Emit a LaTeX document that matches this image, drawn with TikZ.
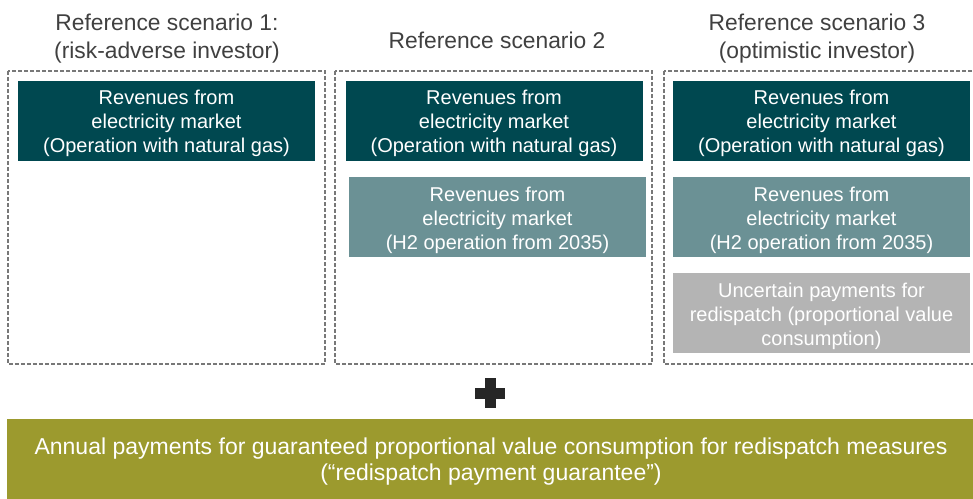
\documentclass[tikz,border=0pt]{standalone}
\usepackage{fontspec}
\setmainfont{Liberation Sans}
\definecolor{tealdark}{RGB}{0,72,80}
\definecolor{teallight}{RGB}{107,145,149}
\definecolor{greybox}{RGB}{180,180,180}
\definecolor{olive}{RGB}{156,154,46}
\definecolor{titlegrey}{RGB}{64,64,64}
\definecolor{dashgrey}{RGB}{120,120,120}
\definecolor{plusgrey}{RGB}{38,38,38}
\begin{document}
\begin{tikzpicture}[x=1pt,y=-1pt,
  scenario/.style={draw=dashgrey,line width=1.4pt,dash pattern=on 4pt off 2pt},
  title/.style={text=titlegrey,font=\fontsize{22.8}{28}\selectfont,align=center,inner sep=0pt},
  revbox/.style={minimum width=297pt,minimum height=80pt,inner sep=0pt},
  gasbox/.style={revbox,fill=tealdark},
  hybox/.style={revbox,fill=teallight},
  rdbox/.style={revbox,fill=greybox},
  boxtext/.style={text=white,inner sep=0pt,font=\fontsize{20}{24}\selectfont,align=center},
  guarbox/.style={fill=olive,inner sep=0pt,minimum width=968pt,minimum height=80pt},
  guartext/.style={text=white,inner sep=0pt,font=\fontsize{23}{26}\selectfont,align=center}]
\useasboundingbox (0,0) rectangle (973,498);

% scenario frames
\draw[scenario] (8,71) rectangle (325,364);
\draw[scenario] (335,71) rectangle (652,364);
\draw[scenario] (664,71) rectangle (978,364);

% headings
\node[title] (t1) at (167,39) {Reference scenario 1:\\(risk-adverse investor)};
\node[title] (t2) at (497,40) {Reference scenario 2};
\node[title] (t3) at (817,39) {Reference scenario 3\\(optimistic investor)};

% revenue blocks
\node[gasbox] (g1) at (166.5,120.5) {};
\node[gasbox] (g2) at (494,120.5) {};
\node[gasbox] (g3) at (821.5,120.5) {};
\node[hybox] (h2) at (497.5,217) {};
\node[hybox] (h3) at (821.5,217) {};
\node[rdbox] (r3) at (821.5,313) {};

\node[boxtext] (g1t) at ([yshift=-3pt]g1.center) {Revenues from\\electricity market\\(Operation with natural gas)};
\node[boxtext] (g2t) at ([yshift=-3pt]g2.center) {Revenues from\\electricity market\\(Operation with natural gas)};
\node[boxtext] (g3t) at ([yshift=-3pt]g3.center) {Revenues from\\electricity market\\(Operation with natural gas)};
\node[boxtext] (h2t) at ([yshift=-3pt]h2.center) {Revenues from\\electricity market\\(H2 operation from 2035)};
\node[boxtext] (h3t) at ([yshift=-3pt]h3.center) {Revenues from\\electricity market\\(H2 operation from 2035)};
\node[boxtext] (r3t) at ([yshift=-3pt]r3.center) {Uncertain payments for\\redispatch (proportional value\\consumption)};

% plus sign
\fill[plusgrey] (475,388) rectangle (505,399);
\fill[plusgrey] (484.5,378) rectangle (495.5,408);

% guarantee bar
\node[guarbox] (gb) at (491,459) {};
\node[guartext] (gbt) at ([yshift=-3pt]gb.center) {Annual payments for guaranteed proportional value consumption for redispatch measures\\(“redispatch payment guarantee”)};
\end{tikzpicture}
\end{document}
